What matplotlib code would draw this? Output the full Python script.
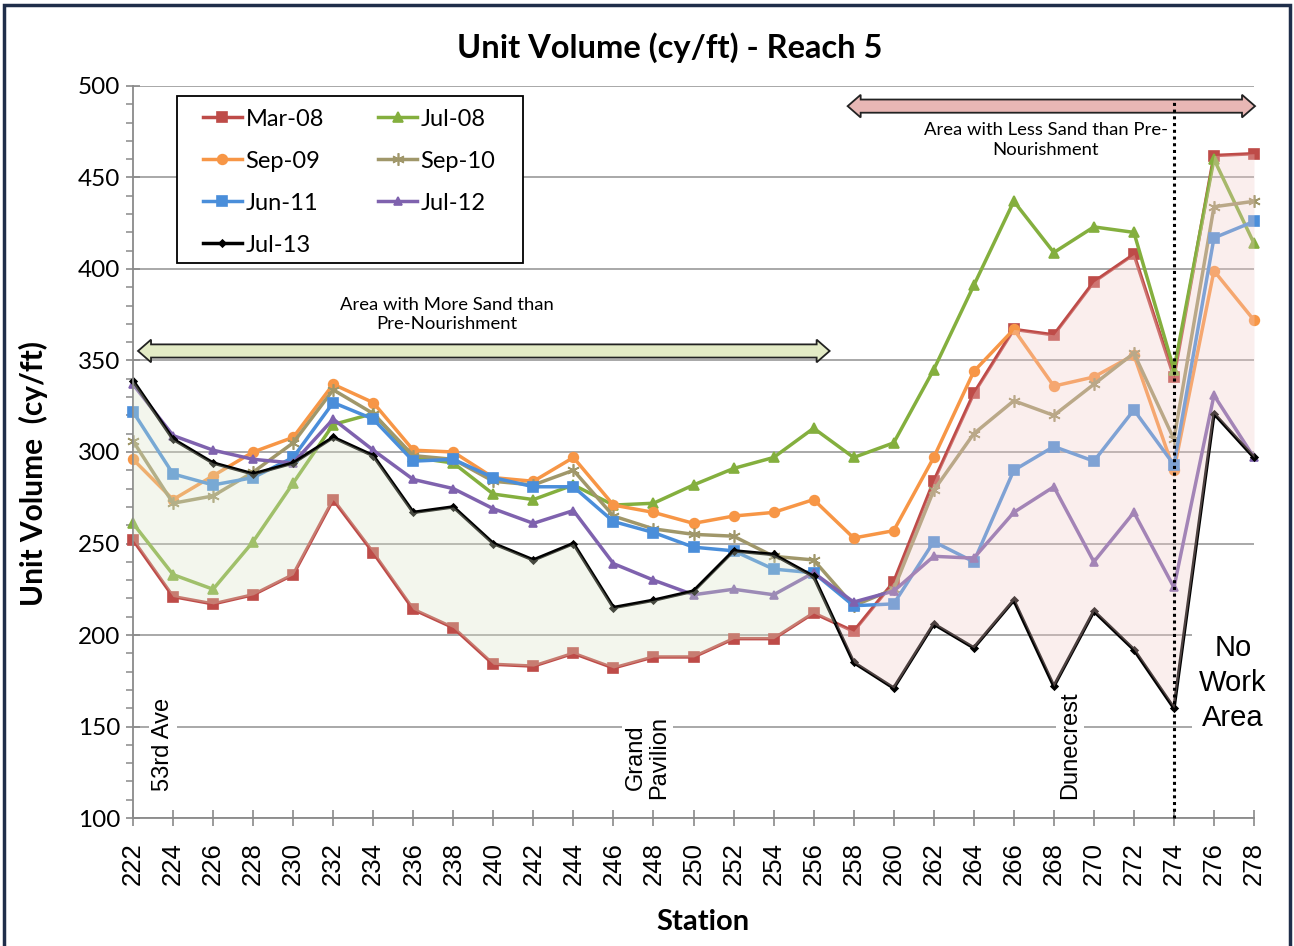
import numpy as np
import matplotlib
matplotlib.use("Agg")
import matplotlib.pyplot as plt
from matplotlib.patches import Polygon, Rectangle
from matplotlib.ticker import MultipleLocator

# --- dados ---
estacoes = [222, 224, 226, 228, 230, 232, 234, 236, 238, 240, 242, 244, 246, 248, 250,
            252, 254, 256, 258, 260, 262, 264, 266, 268, 270, 272, 274, 276, 278]

mar08 = [252, 221, 217, 222, 233, 274, 245, 214, 204, 184, 183, 190, 182, 188, 188,
         198, 198, 212, 202, 229, 284, 332, 367, 364, 393, 408, 341, 462, 463]
jul08 = [261, 233, 225, 251, 283, 315, 321, 297, 294, 277, 274, 282, 271, 272, 282,
         291, 297, 313, 297, 305, 345, 391, 437, 409, 423, 420, 345, 460, 414]
sep09 = [296, 274, 287, 300, 308, 337, 327, 301, 300, 286, 284, 297, 271, 267, 261,
         265, 267, 274, 253, 257, 297, 344, 367, 336, 341, 353, 290, 399, 372]
sep10 = [306, 272, 276, 289, 305, 334, 321, 298, 296, 284, 282, 290, 265, 258, 255,
         254, 243, 241, 216, 225, 279, 310, 328, 320, 337, 354, 307, 434, 437]
jun11 = [322, 288, 282, 286, 297, 327, 318, 295, 296, 286, 281, 281, 262, 256, 248,
         246, 236, 234, 216, 217, 251, 240, 290, 303, 295, 323, 293, 417, 426]
jul12 = [337, 309, 301, 296, 294, 318, 301, 285, 280, 269, 261, 268, 239, 230, 222,
         225, 222, 234, 218, 224, 243, 242, 267, 281, 240, 267, 226, 331, 297]
jul13 = [339, 307, 294, 288, 294, 308, 298, 267, 270, 250, 241, 250, 215, 219, 224,
         246, 244, 232, 185, 171, 206, 193, 219, 172, 213, 192, 160, 321, 297]

series = [
    ("Mar-08", mar08, "#BE4B48", "s", 7),
    ("Jul-08", jul08, "#84AF3E", "^", 7),
    ("Sep-09", sep09, "#F79646", "o", 7),
    ("Sep-10", sep10, "#A0976A", (6, 2, 0), 9),
    ("Jun-11", jun11, "#4A8EDA", "s", 7),
    ("Jul-12", jul12, "#7F62AE", "^", 6),
    ("Jul-13", jul13, "#000000", "D", 3.5),
]

CALIBRI = ["Lato", "DejaVu Sans"]
ARIAL = ["Liberation Sans", "DejaVu Sans"]


def seta_dupla(ax, x0, x1, y, corpo, cabeca, compr, cor):
    """Seta grossa de duas pontas (coordenadas de dados)."""
    pts = [(x0, y), (x0 + compr, y + cabeca), (x0 + compr, y + corpo),
           (x1 - compr, y + corpo), (x1 - compr, y + cabeca), (x1, y),
           (x1 - compr, y - cabeca), (x1 - compr, y - corpo),
           (x0 + compr, y - corpo), (x0 + compr, y - cabeca)]
    ax.add_patch(Polygon(pts, closed=True, fc=cor, ec="#222222", lw=1.3,
                         zorder=4, clip_on=False))


fig = plt.figure(figsize=(12.94, 9.46), dpi=100)
ax = fig.add_axes([0.1028, 0.1353, 0.8663, 0.7738])

x = np.array(estacoes, dtype=float)
handles = {}
for nome, ys, cor, mk, ms in series:
    (h,) = ax.plot(x, ys, color=cor, lw=2.5, marker=mk, ms=ms, mec=cor,
                   mfc=cor, mew=1.2, label=nome, zorder=2, clip_on=False)
    handles[nome] = h

# áreas entre pré-nourishment (Mar-08) e Jul-13, por cima das linhas (translúcidas)
a = np.array(mar08, dtype=float)
b = np.array(jul13, dtype=float)
ax.fill_between(x, a, b, where=b >= a, interpolate=True, color="#DCE4C8",
                alpha=0.32, lw=0, zorder=3)
ax.fill_between(x, a, b, where=b < a, interpolate=True, color="#F2CDCA",
                alpha=0.32, lw=0, zorder=3)

ax.set_xlim(222, 278)
ax.set_ylim(100, 500)
ax.set_xticks(estacoes)
ax.set_xticklabels([str(s) for s in estacoes], rotation=90, fontsize=18.5,
                   family=ARIAL)
ax.yaxis.set_major_locator(MultipleLocator(50))
ax.yaxis.set_minor_locator(MultipleLocator(10))
for lb in ax.get_yticklabels():
    lb.set_family(CALIBRI)
    lb.set_fontsize(17.5)

ax.grid(axis="y", color="#9A9A9A", lw=1.2)
ax.set_axisbelow(True)
for s in ("top", "right"):
    ax.spines[s].set_visible(False)
for s in ("left", "bottom"):
    ax.spines[s].set_color("#8A8A8A")
    ax.spines[s].set_linewidth(1.3)
ax.tick_params(axis="x", direction="inout", length=11, width=1.2,
               color="#8A8A8A", pad=12)
ax.tick_params(axis="y", which="major", direction="inout", length=10,
               width=1.2, color="#8A8A8A", pad=4)
ax.tick_params(axis="y", which="minor", direction="out", length=5,
               width=1.1, color="#8A8A8A")

ax.set_title("Unit Volume (cy/ft) - Reach 5", fontsize=23.5, fontweight="bold",
             family=CALIBRI, pad=20, x=0.479)
ax.set_ylabel("Unit Volume  (cy/ft)", fontsize=21.5, fontweight="bold",
              family=CALIBRI)
ax.yaxis.set_label_coords(-0.0758, 0.47)
ax.set_xlabel("Station", fontsize=21, fontweight="bold", family=CALIBRI)
ax.xaxis.set_label_coords(0.508, -0.124)

# setas e textos de área
seta_dupla(ax, 222.25, 256.8, 355.2, 3.6, 6.2, 0.65, "#E3EBC6")
ax.text(237.7, 375, "Area with More Sand than\nPre-Nourishment", ha="center",
        va="center", fontsize=13.3, family=CALIBRI, linespacing=1.25, zorder=5)
seta_dupla(ax, 257.7, 278.05, 489, 3.6, 6.2, 0.65, "#E8B7B5")
ax.text(267.6, 470.5, "Area with Less Sand than Pre-\nNourishment", ha="center",
        va="center", fontsize=13.3, family=CALIBRI, linespacing=1.25, zorder=5)

ax.plot([274, 274], [100, 493], color="black", ls=(0, (1, 1.2)), lw=2.2,
        zorder=6, clip_on=False)

caixa = dict(fc="white", ec="none", pad=2)
ax.text(223.5, 140, "53rd Ave", rotation=90, ha="center", va="center",
        fontsize=17, family=ARIAL, bbox=caixa, zorder=1.5)
ax.text(247.7, 133, "Grand\nPavilion", rotation=90, ha="center", va="center",
        fontsize=17, family=ARIAL, linespacing=1.05, bbox=caixa, zorder=1.5)
ax.text(268.8, 140, "Dunecrest", rotation=90, ha="center", va="center",
        fontsize=17, family=ARIAL, bbox=caixa, zorder=1.5)
ax.text(276.95, 174, "No\nWork\nArea", ha="center", va="center",
        fontsize=21, family=ARIAL, linespacing=1.32,
        bbox=dict(fc="white", ec="none", pad=5), zorder=1.5)

# legenda (sem moldura própria; moldura desenhada à parte)
ordem = ["Mar-08", "Sep-09", "Jun-11", "Jul-13", "Jul-08", "Sep-10", "Jul-12"]
leg = ax.legend([handles[n] for n in ordem], ordem, ncol=2, loc="upper left",
                bbox_to_anchor=(0.0624, 0.969), frameon=False,
                prop={"family": CALIBRI, "size": 17},
                handlelength=1.65, handletextpad=0.15, columnspacing=2.3,
                labelspacing=0.89, borderpad=0, borderaxespad=0)
leg.set_zorder(7)
ax.add_patch(Rectangle((0.0393, 0.758), 0.3087, 0.2283, transform=ax.transAxes,
                       fc="white", ec="black", lw=1.3, zorder=6.9))

fig.patches.append(Rectangle((0.003, -0.01), 0.994, 1.005, transform=fig.transFigure,
                             fill=False, ec="#1F2E4A", lw=2.5))

fig.savefig("out.png", dpi=100)
